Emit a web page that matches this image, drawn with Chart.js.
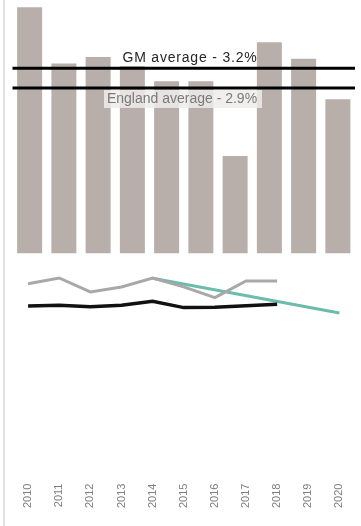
<!DOCTYPE html>
<html>
<head>
<meta charset="utf-8">
<script src="https://cdn.jsdelivr.net/npm/chart.js@4/dist/chart.umd.min.js"></script>
<style>
  html, body { margin: 0; padding: 0; background: #ffffff; }
  #wrap { position: relative; width: 361px; height: 526px; }
</style>
</head>
<body>
<div id="wrap"><canvas id="chart" width="361" height="526"></canvas></div>
<script>
// Greater Manchester boroughs (bar panel, category labels not shown)
const boroughs = ['Bolton', 'Bury', 'Manchester', 'Oldham', 'Rochdale',
                  'Salford', 'Stockport', 'Tameside', 'Trafford', 'Wigan'];
const boroughRates = [4.12, 3.27, 3.37, 3.40, 3.00, 3.00, 1.87, 3.59, 3.34, 2.73];

// Reference lines across the bar panel
const gmAverage = 3.2;
const englandAverage = 2.9;

// Trend panel
const years = ['2010', '2011', '2012', '2013', '2014', '2015',
               '2016', '2017', '2018', '2019', '2020'];
const gmTrend      = [7.78, 8.01, 7.45, 7.65, 8.01, 7.65, 7.22, 7.89, 7.89, null, null];
const englandTrend = [6.88, 6.91, 6.85, 6.91, 7.07, 6.82, 6.83, 6.89, 6.95, null, null];
const targetTrend  = [null, null, null, null, 8.00, null, null, null, null, null, 6.60];

const FONT = "'Liberation Sans', Arial, sans-serif";

const decorations = {
  id: 'decorations',
  beforeDraw(chart) {
    const ctx = chart.ctx;
    ctx.save();
    ctx.fillStyle = '#ffffff';
    ctx.fillRect(0, 0, chart.width, chart.height);
    ctx.fillStyle = '#e2e2e2';
    ctx.fillRect(3, 0, 2, chart.height);
    ctx.restore();
  },
  afterDatasetsDraw(chart) {
    const ctx = chart.ctx;
    const area = chart.chartArea;
    const yb = chart.scales.yb;
    const gmY = yb.getPixelForValue(gmAverage);
    const engY = yb.getPixelForValue(englandAverage);
    ctx.save();

    // label backgrounds
    ctx.fillStyle = '#ffffff';
    ctx.fillRect(116, gmY - 21, 140, 19);
    ctx.fillStyle = 'rgba(238,236,234,0.85)';
    ctx.fillRect(104, engY + 2, 158, 18);

    // average lines
    ctx.strokeStyle = '#000000';
    ctx.lineWidth = 3;
    [gmY, engY].forEach(y => {
      ctx.beginPath();
      ctx.moveTo(area.left, y);
      ctx.lineTo(area.right, y);
      ctx.stroke();
    });

    // labels
    ctx.textAlign = 'center';
    ctx.textBaseline = 'alphabetic';
    ctx.font = '14px ' + FONT;
    ctx.letterSpacing = '0.8px';
    ctx.fillStyle = '#262626';
    ctx.fillText('GM average - ' + gmAverage.toFixed(1) + '%', 190, gmY - 6);
    ctx.letterSpacing = '0px';
    ctx.fillStyle = '#7a7a7a';
    ctx.fillText('England average - ' + englandAverage.toFixed(1) + '%', 182, engY + 15);
    ctx.restore();
  }
};

new Chart(document.getElementById('chart'), {
  type: 'bar',
  data: {
    labels: years,
    datasets: [
      {
        type: 'bar',
        label: 'Borough rate',
        data: boroughRates,
        xAxisID: 'xb',
        yAxisID: 'yb',
        backgroundColor: '#b8afab',
        borderWidth: 0,
        grouped: false,
        barPercentage: 0.73,
        categoryPercentage: 1.0
      },
      {
        type: 'line',
        label: 'GM',
        data: gmTrend,
        xAxisID: 'x',
        yAxisID: 'y',
        borderColor: '#a8a8a8',
        borderWidth: 3,
        pointRadius: 0,
        tension: 0
      },
      {
        type: 'line',
        label: 'England',
        data: englandTrend,
        xAxisID: 'x',
        yAxisID: 'y',
        borderColor: '#111111',
        borderWidth: 3.5,
        pointRadius: 0,
        tension: 0
      },
      {
        type: 'line',
        label: 'Target',
        data: targetTrend,
        xAxisID: 'x',
        yAxisID: 'y',
        borderColor: '#6cbcae',
        borderWidth: 3,
        pointRadius: 0,
        tension: 0,
        spanGaps: true
      }
    ]
  },
  options: {
    responsive: false,
    animation: false,
    devicePixelRatio: 1,
    layout: { padding: { left: 12.5, right: 6, top: 2, bottom: 12 } },
    plugins: { legend: { display: false }, tooltip: { enabled: false } },
    scales: {
      y: {
        type: 'linear',
        position: 'left',
        stack: 'panels',
        stackWeight: 224,
        min: 0,
        max: 9,
        display: false
      },
      yb: {
        type: 'linear',
        position: 'left',
        stack: 'panels',
        stackWeight: 251,
        min: 0.4,
        max: 4.2,
        display: false
      },
      xb: {
        type: 'category',
        labels: boroughs,
        position: 'bottom',
        offset: true,
        display: false
      },
      x: {
        type: 'category',
        labels: years,
        position: 'bottom',
        offset: true,
        grid: { display: false, drawTicks: false },
        border: { display: false },
        ticks: {
          autoSkip: false,
          minRotation: 90,
          maxRotation: 90,
          padding: 6,
          color: '#7f7f7f',
          font: { family: FONT, size: 11 }
        }
      }
    }
  },
  plugins: [decorations]
});
</script>
</body>
</html>
